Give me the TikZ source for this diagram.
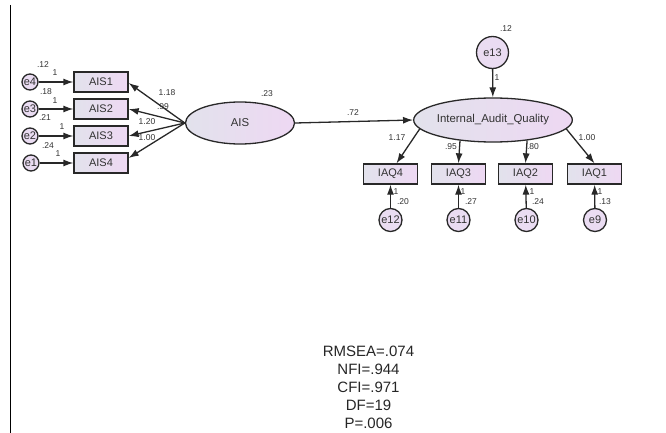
\documentclass[tikz,border=0pt]{standalone}
\usepackage{fontspec}
\setmainfont{Liberation Sans}
\usetikzlibrary{arrows.meta,shapes.geometric}
\definecolor{fillL}{RGB}{226,226,236}
\definecolor{fillR}{RGB}{238,216,243}
\definecolor{circfill}{RGB}{234,220,242}
\definecolor{edgec}{RGB}{40,40,40}
\definecolor{txt}{RGB}{50,50,50}
\begin{document}
\begin{tikzpicture}[x=1pt,y=-1pt,
  obsbox/.style={draw=edgec, line width=1.3pt, left color=fillL, right color=fillR,
    minimum width=54pt, minimum height=20pt, inner sep=0pt,
    font=\fontsize{11}{11}\selectfont, text=txt},
  latent/.style={ellipse, draw=edgec, line width=1.3pt, left color=fillL, right color=fillR,
    inner sep=0pt, font=\fontsize{11.4}{11.4}\selectfont, text=txt},
  errc/.style={circle, draw=edgec, line width=1.3pt, fill=circfill, inner sep=0pt,
    font=\fontsize{11}{11}\selectfont, text=txt},
  lbl/.style={font=\fontsize{8.5}{8.5}\selectfont, text=txt, inner sep=0pt},
  conn/.style={draw=edgec, line width=1.3pt, -{Latex[length=10pt,width=7pt]}},
]
\useasboundingbox (0,0) rectangle (666,433);
\coordinate (frtop) at (10.5,5);
\coordinate (frbot) at (10.5,433);
\draw[line width=1.5pt, black] (frtop) -- (frbot);

% AIS block
\node[latent, minimum width=109pt, minimum height=42pt] (ais) at (240,123) {AIS};
\node[obsbox] (ais1) at (101,82) {AIS1};
\node[obsbox] (ais2) at (101,109) {AIS2};
\node[obsbox] (ais3) at (101,136) {AIS3};
\node[obsbox] (ais4) at (101,163) {AIS4};
\node[errc, minimum size=16pt] (e4) at (30,82) {e4};
\node[errc, minimum size=16pt] (e3) at (30,109) {e3};
\node[errc, minimum size=16pt] (e2) at (30,136) {e2};
\node[errc, minimum size=16pt] (e1) at (31,163) {e1};

\draw[conn] (e4) -- (ais1);
\draw[conn] (e3) -- (ais2);
\draw[conn] (e2) -- (ais3);
\draw[conn] (e1) -- (ais4);
\draw[conn] (ais.west) -- ([yshift=-1pt]ais1.east);
\draw[conn] (ais.west) -- (ais2.east);
\draw[conn] (ais.west) -- (ais3.east);
\draw[conn] (ais.west) -- ([yshift=5pt]ais4.east);

\node[lbl] (v4) at (43,65) {.12};
\node[lbl] (w4) at (55,73) {1};
\node[lbl] (v3) at (46,92) {.18};
\node[lbl] (w3) at (55,101) {1};
\node[lbl] (v2) at (45,118) {.21};
\node[lbl] (w2) at (62,127) {1};
\node[lbl] (v1) at (48,146) {.24};
\node[lbl] (w1) at (58,154) {1};
\node[lbl] (l1) at (167,93) {1.18};
\node[lbl] (l2) at (163,107) {.99};
\node[lbl] (l3) at (147,122) {1.20};
\node[lbl] (l4) at (147,138) {1.00};
\node[lbl] (vais) at (267,94) {.23};

% IAQ block
\node[latent, minimum width=141pt, minimum height=44pt] (iaq) at (493,120) {Internal\_Audit\_Quality};
\node[errc, minimum size=32pt] (e13) at (492.5,52.5) {e13};
\node[obsbox] (iaq4) at (390.5,174) {IAQ4};
\node[obsbox] (iaq3) at (458.5,174) {IAQ3};
\node[obsbox] (iaq2) at (525.5,174) {IAQ2};
\node[obsbox] (iaq1) at (594.5,174) {IAQ1};
\node[errc, minimum size=23pt] (e12) at (390.5,220) {e12};
\node[errc, minimum size=23pt] (e11) at (458.5,220) {e11};
\node[errc, minimum size=23pt] (e10) at (526.5,220) {e10};
\node[errc, minimum size=23pt] (e9) at (595,220) {e9};

\draw[conn] (ais.east) -- (iaq.west);
\draw[conn] (e13) -- (iaq);
\draw[conn] (iaq.187) -- ([xshift=6pt]iaq4.north);
\draw[conn] (iaq.212) -- (iaq3.north);
\draw[conn] (iaq.329) -- (iaq2.north);
\draw[conn] (iaq.353) -- (iaq1.north);
\draw[conn] (e12) -- (iaq4);
\draw[conn] (e11) -- (iaq3);
\draw[conn] (e10) -- (iaq2);
\draw[conn] (e9) -- (iaq1);

\node[lbl] (b72) at (353,113) {.72};
\node[lbl] (v13) at (506,29) {.12};
\node[lbl] (w13) at (497,78) {1};
\node[lbl] (m4) at (397,138) {1.17};
\node[lbl] (m3) at (451,147) {.95};
\node[lbl] (m2) at (533,147) {.80};
\node[lbl] (m1) at (587,138) {1.00};
\node[lbl] (w12) at (396,192) {1};
\node[lbl] (v12) at (403,202) {.20};
\node[lbl] (w11) at (463,192) {1};
\node[lbl] (v11) at (471,202) {.27};
\node[lbl] (w10) at (532,192) {1};
\node[lbl] (v10) at (538,202) {.24};
\node[lbl] (w9) at (600,192) {1};
\node[lbl] (v9) at (605,202) {.13};

% fit statistics
\node[align=center, inner sep=0pt, text=black!85, font=\fontsize{15}{17.9}\selectfont] (fitstats) at (368.5,387.5)
  {RMSEA=.074\\NFI=.944\\CFI=.971\\DF=19\\P=.006};
\end{tikzpicture}
\end{document}
